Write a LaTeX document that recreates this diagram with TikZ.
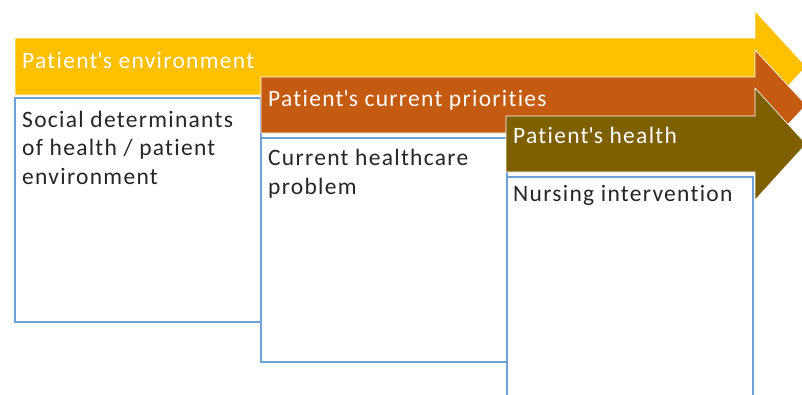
\documentclass[tikz,border=0pt]{standalone}
\usepackage{fontspec}
\setmainfont[LetterSpace=5.5, Ligatures=NoCommon]{Carlito}
\definecolor{envyellow}{RGB}{255,192,0}
\definecolor{priorange}{RGB}{197,90,17}
\definecolor{healthbrown}{RGB}{127,96,0}
\definecolor{boxblue}{RGB}{112,162,218}
\begin{document}
\begin{tikzpicture}[x=1pt,y=-1pt,
    band/.style ={draw=white, line width=0.6pt},
    bandlabel/.style ={anchor=base west, inner sep=0pt, text=white, font=\fontsize{23.5}{28.5}\selectfont},
    column/.style ={draw=boxblue, line width=1.6pt, fill=white, inner sep=0pt, anchor=north west},
    columntext/.style ={anchor=base west, inner sep=0pt, align=left, text=black!85, font=\fontsize{23.5}{28.5}\selectfont}]
   \useasboundingbox (0,0) rectangle (802,394);
   % environment band and its column (multi-line text sits on its last baseline)
   \fill[envyellow, band] (15,38) -- (755,38) -- (755,11) -- (806,66.5) -- (755,122) -- (755,95) -- (15,95) -- cycle;
   \node[bandlabel] (env) at (22,68) {Patient\textquotesingle s environment};
   \node[column, minimum width=246, minimum height=224] (social) at (14,97) {};
   \node[columntext] (socialtext) at (22,184) {Social determinants\\of health / patient\\environment};
   % current priorities band and its column
   \fill[priorange, band] (261,77) -- (755,77) -- (755,50) -- (806,105) -- (755,160) -- (755,133) -- (261,133) -- cycle;
   \node[bandlabel] (prio) at (268,106) {Patient\textquotesingle s current priorities};
   \node[column, minimum width=246, minimum height=224] (problem) at (260,137) {};
   \node[columntext] (problemtext) at (268,194) {Current healthcare\\problem};
   % health band and its column
   \fill[healthbrown, band] (506,116) -- (755,116) -- (755,88) -- (806,144) -- (755,200) -- (755,172) -- (506,172) -- cycle;
   \node[bandlabel] (health) at (513,143) {Patient\textquotesingle s health};
   \node[column, minimum width=246, minimum height=230] (nursing) at (506,176) {};
   \node[columntext] (nursingtext) at (513,201) {Nursing intervention};
 \end{tikzpicture}
\end{document}
